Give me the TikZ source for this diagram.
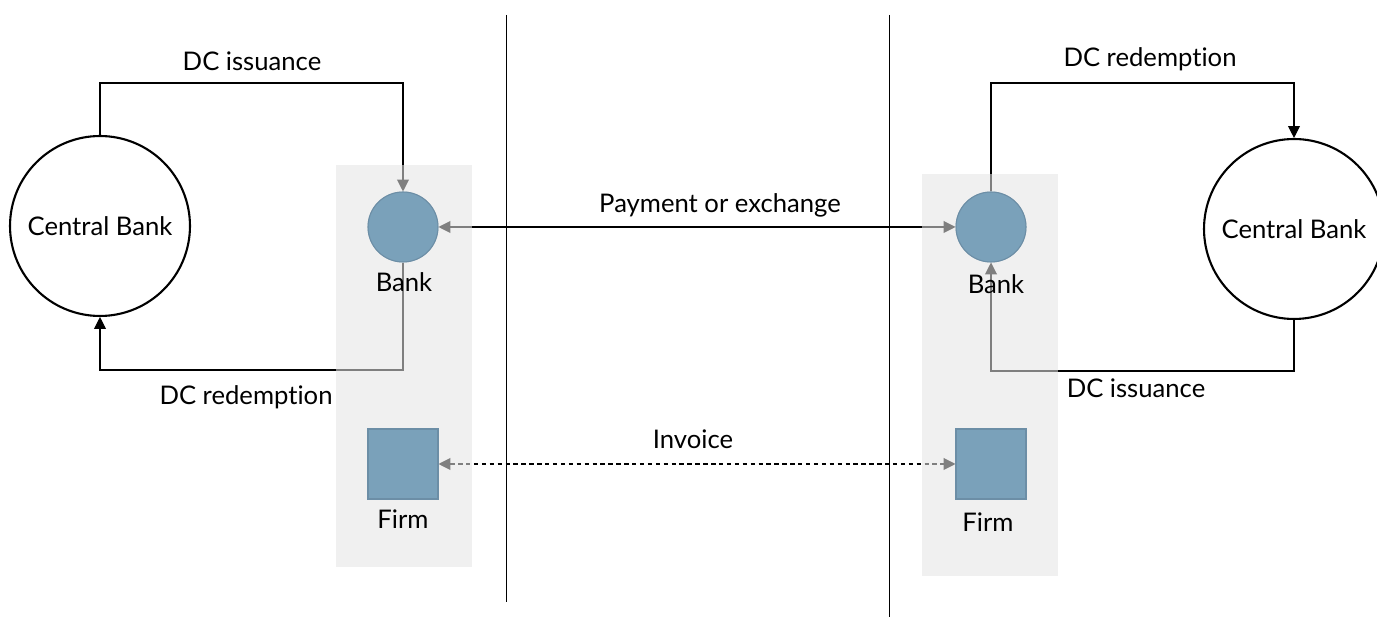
\documentclass[tikz,border=0pt]{standalone}
\usepackage{fontspec}
\setmainfont{Lato}[Ligatures={NoCommon,NoRequired,NoContextual}]
\usetikzlibrary{arrows.meta}
\definecolor{panelc}{RGB}{228,228,228}
\definecolor{nodefill}{RGB}{122,161,186}
\definecolor{nodedraw}{RGB}{108,142,166}
\tikzset{
  cbank/.style={circle, draw=black, line width=1.2pt, minimum size=3.6cm, inner sep=0pt, font=\fontsize{14.6}{16}\selectfont},
  bankc/.style={circle, fill=nodefill, draw=nodedraw, line width=0.6pt, minimum size=1.4cm, inner sep=0pt},
  firmc/.style={rectangle, fill=nodefill, draw=nodedraw, line width=0.6pt, minimum size=1.4cm, inner sep=0pt},
  lbl/.style={font=\fontsize{14.6}{16}\selectfont, inner sep=0pt},
  conn/.style={line width=0.6pt, draw=black},
  tip/.style={-{Triangle[length=6.8pt,width=6.8pt]}},
  tips/.style={{Triangle[length=6.8pt,width=6.8pt]}-{Triangle[length=6.8pt,width=6.8pt]}},
  panel/.style={fill=panelc, fill opacity=0.56, draw=none},
  divider/.style={line width=0.5pt, draw=black}
}
\begin{document}
\begin{tikzpicture}[x=0.02cm, y=-0.02cm]
\useasboundingbox (0,0) rectangle (1377,617);
\clip (0,0) rectangle (1377,617);
% coordinates
\coordinate (yTop) at (0,83);
\coordinate (yBotL) at (0,370);
\coordinate (yBotR) at (0,371);
\coordinate (dTopL) at (506,15);
\coordinate (dBotL) at (506,602);
\coordinate (dTopR) at (889,15);
\coordinate (dBotR) at (889,617);
% main nodes
\node[cbank] (cbL) at (100,226) {Central Bank};
\node[cbank] (cbR) at (1294,229) {Central Bank};
\node[bankc] (bankL) at (403,227) {};
\node[bankc] (bankR) at (991,227) {};
\node[firmc] (firmL) at (403,464) {};
\node[firmc] (firmR) at (991,464) {};
% dividers
\draw[divider] (dTopL) -- (dBotL);
\draw[divider] (dTopR) -- (dBotR);
% connectors
\draw[conn, tip] (cbL.north) -- (cbL.north |- yTop) -| (bankL.north);
\draw[conn, tip] (bankL.south) -- (bankL.south |- yBotL) -| (cbL.south);
\draw[conn, tip] (bankR.north) -- (bankR.north |- yTop) -| (cbR.north);
\draw[conn, tip] (cbR.south) -- (cbR.south |- yBotR) -| (bankR.south);
\draw[conn, tips] (bankL.east) -- (bankR.west);
\draw[conn, tips, dashed, dash pattern=on 2.5pt off 2pt] (firmL.east) -- (firmR.west);
% panels
\node[panel, minimum width=2.72cm, minimum height=8.04cm, inner sep=0pt] (panelL) at (404,366) {};
\node[panel, minimum width=2.72cm, minimum height=8.04cm, inner sep=0pt] (panelR) at (990,375) {};
% redraw shapes on top of panels
\node[bankc] at (bankL) {};
\node[bankc] at (bankR) {};
\node[firmc] at (firmL) {};
\node[firmc] at (firmR) {};
% labels
\node[lbl] (bankLl) at (404,282) {Bank};
\node[lbl] (bankRl) at (996,284) {Bank};
\node[lbl] (firmLl) at (403,519) {Firm};
\node[lbl] (firmRl) at (988,522) {Firm};
\node[lbl] (issL) at (252,61) {DC issuance};
\node[lbl] (redL) at (246,397) {DC redemption};
\node[lbl] (redR) at (1150,59) {DC redemption};
\node[lbl] (issR) at (1136,388) {DC issuance};
\node[lbl] (pay) at (720,205) {Payment or exchange};
\node[lbl] (inv) at (693,439) {Invoice};
\end{tikzpicture}
\end{document}
